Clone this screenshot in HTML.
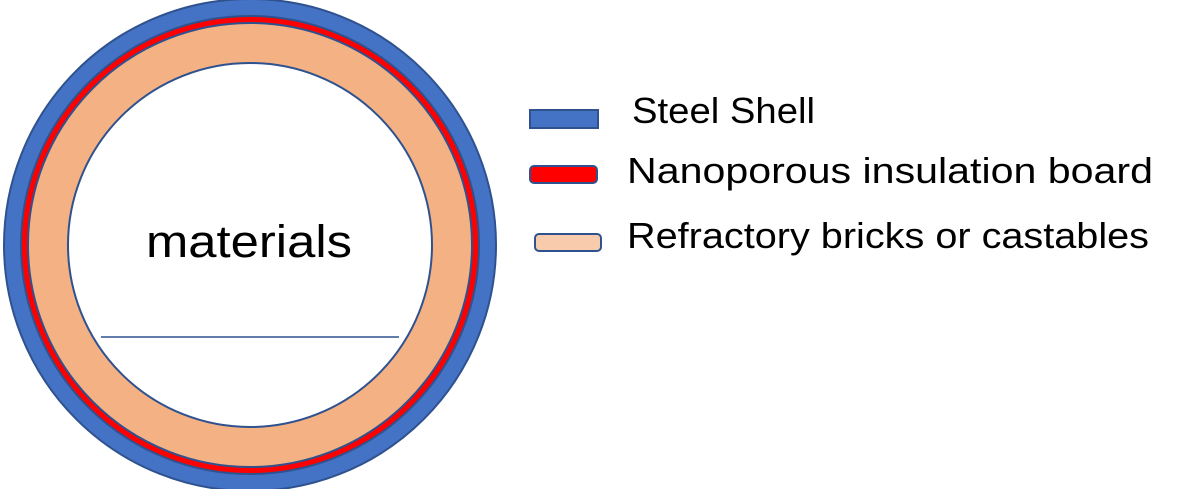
<!DOCTYPE html>
<html><head><style>
body{margin:0;width:1178px;height:489px;background:#fff;overflow:hidden;font-family:"Liberation Sans","DejaVu Sans",sans-serif;}
</style></head><body>
<svg width="1178" height="489" xmlns="http://www.w3.org/2000/svg">
<circle cx="250" cy="245" r="246" fill="#4472c4" stroke="#2f528f" stroke-width="2"/>
<circle cx="250" cy="245" r="229" fill="#ff0000" stroke="#2f528f" stroke-width="2"/>
<circle cx="250" cy="245" r="222" fill="#f4b183" stroke="#2f528f" stroke-width="2"/>
<circle cx="250" cy="245" r="182" fill="#fff" stroke="#2f528f" stroke-width="2"/>
<line x1="101" y1="337" x2="399" y2="337" stroke="#2f528f" stroke-width="1.5"/>
<text x="146" y="257" font-size="45" textLength="206" lengthAdjust="spacingAndGlyphs" fill="#000">materials</text>
<rect x="530" y="110" width="68" height="18" fill="#4472c4" stroke="#2f528f" stroke-width="2"/>
<rect x="530" y="166" width="67" height="17" rx="4" fill="#ff0000" stroke="#2f528f" stroke-width="2"/>
<rect x="535" y="234" width="66" height="17" rx="4" fill="#f8cbad" stroke="#2f528f" stroke-width="2"/>
<text x="632" y="123" font-size="36" textLength="183" lengthAdjust="spacingAndGlyphs" fill="#000">Steel Shell</text>
<text x="627" y="183" font-size="36" textLength="526" lengthAdjust="spacingAndGlyphs" fill="#000">Nanoporous insulation board</text>
<text x="627" y="248" font-size="36" textLength="522" lengthAdjust="spacingAndGlyphs" fill="#000">Refractory bricks or castables</text>
</svg>
</body></html>
